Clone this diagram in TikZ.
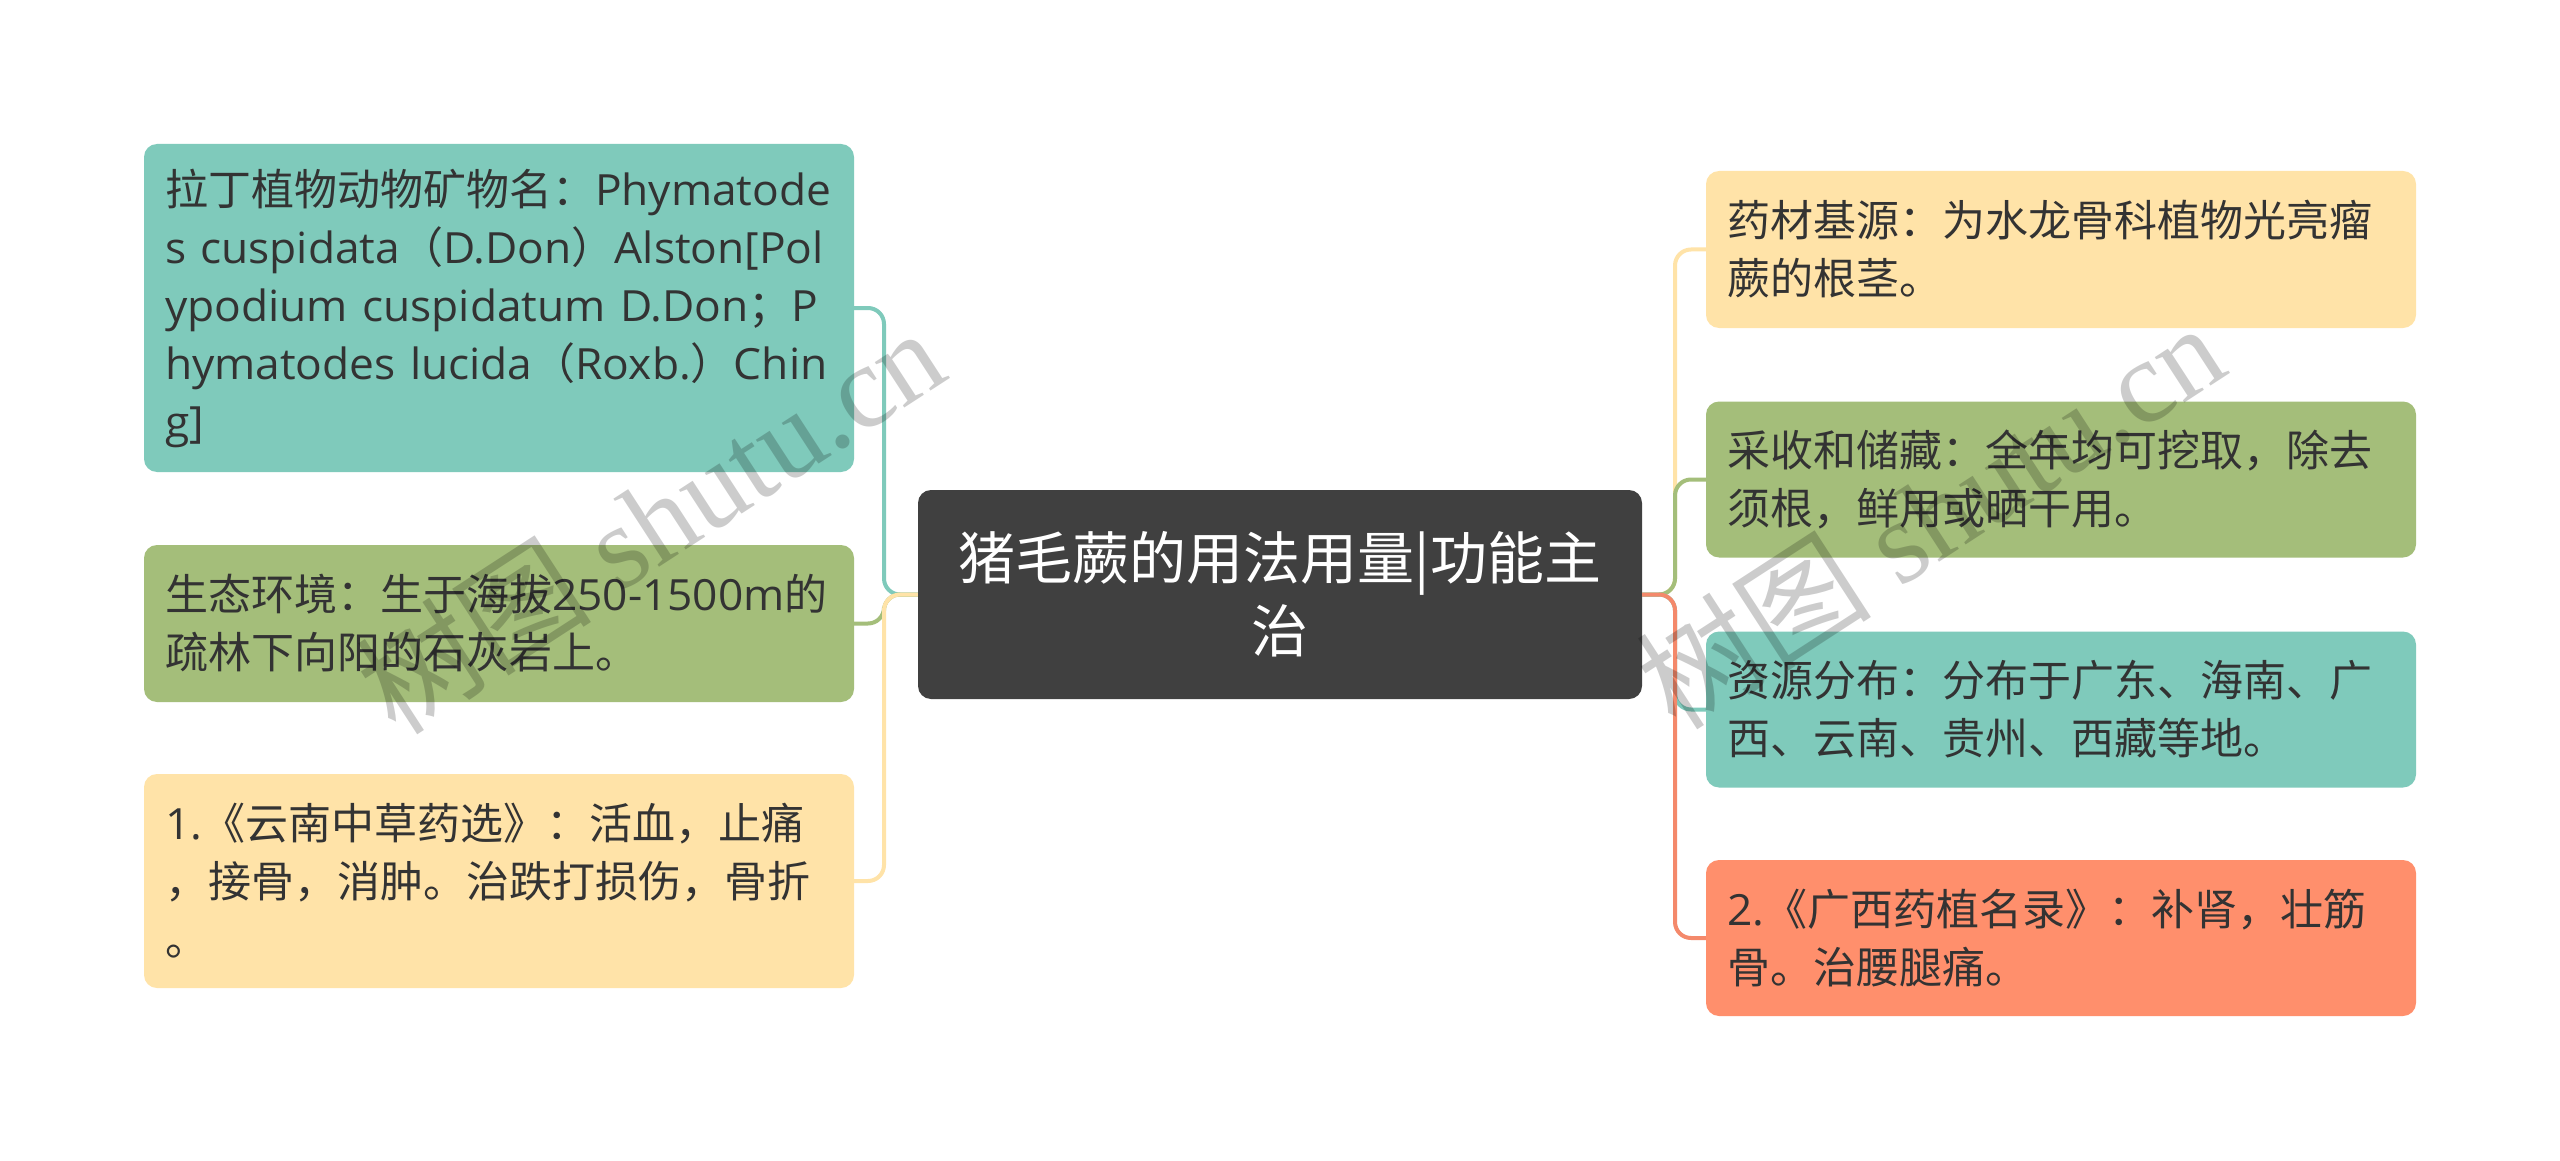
\documentclass[tikz,border=0pt]{standalone}
\usepackage{fontspec}
\setmainfont{Noto Sans CJK SC}
\newfontfamily\lat[FakeStretch=1.03]{Open Sans}
\newfontfamily\wmlat{Liberation Serif}
\newfontfamily\wmcjk{Noto Sans CJK SC}
\definecolor{cteal}{HTML}{7FCABB}
\definecolor{cgreen}{HTML}{A4BE7A}
\definecolor{cyellow}{HTML}{FFE3A8}
\definecolor{csalmon}{HTML}{FF8F6C}
\definecolor{lsalmon}{HTML}{F4896B}
\definecolor{ccenter}{HTML}{404040}
\definecolor{ctxt}{HTML}{333333}
\begin{document}
\begin{tikzpicture}[x=1pt,y=-1pt,
  box/.style={rounded corners=13pt, inner xsep=21pt, inner ysep=0pt,
    text width=668pt, align=left, minimum width=710pt,
    font=\fontsize{43pt}{58pt}\selectfont, text=ctxt},
  centerbox/.style={rounded corners=13pt, fill=ccenter, inner xsep=20pt, inner ysep=0pt,
    text width=684pt, align=center, minimum width=724pt, minimum height=209pt,
    font=\fontsize{57pt}{73pt}\selectfont, text=white},
  lk/.style={line width=4pt, rounded corners=16pt},
  wm/.style={text=black, text opacity=0.2, rotate=33, font=\wmlat\fontsize{118pt}{118pt}\selectfont, inner sep=0pt}]
\fill[white] (0,0) rectangle (2560,1161);
\useasboundingbox (0,0) rectangle (2560,1161);

\node[centerbox] (c) at (1280,594.5) {猪毛蕨的用法用量|功能主\\治};

\node[box, fill=cteal, minimum height=328pt] (l1) at (499,308)
  {拉丁植物动物矿物名：{\lat Phymatode}\\{\lat s cuspidata}（{\lat D.Don}）{\lat Alston[Pol}\\{\lat ypodium cuspidatum D.Don}；{\lat P}\\{\lat hymatodes lucida}（{\lat Roxb.}）{\lat Chin}\\{\lat g]}};
\node[box, fill=cgreen, minimum height=157pt] (l2) at (499,623.5)
  {生态环境：生于海拔{\lat 250-1500m}的\\疏林下向阳的石灰岩上。};
\node[box, fill=cyellow, minimum height=214pt] (l3) at (499,881)
  {{\lat 1.}《云南中草药选》：活血，止痛\\，接骨，消肿。治跌打损伤，骨折\\。};

\node[box, fill=cyellow, minimum height=157pt] (r1) at (2061,249.5)
  {药材基源：为水龙骨科植物光亮瘤\\蕨的根茎。};
\node[box, fill=cgreen, minimum height=156pt] (r2) at (2061,479.5)
  {采收和储藏：全年均可挖取，除去\\须根，鲜用或晒干用。};
\node[box, fill=cteal, minimum height=156pt] (r3) at (2061,709.5)
  {资源分布：分布于广东、海南、广\\西、云南、贵州、西藏等地。};
\node[box, fill=csalmon, minimum height=156pt] (r4) at (2061,938)
  {{\lat 2.}《广西药植名录》：补肾，壮筋\\骨。治腰腿痛。};

\coordinate (sL) at (884,594.5);
\coordinate (sR) at (1675,594.5);

\draw[lk, draw=cteal] (c.west) -- (sL) -- (sL |- l1.east) -- (l1.east);
\draw[lk, draw=cgreen] (c.west) -- (sL) -- (sL |- l2.east) -- (l2.east);
\draw[lk, draw=cyellow] (c.west) -- (sL) -- (sL |- l3.east) -- (l3.east);

\draw[lk, draw=cyellow] (c.east) -- (sR) -- (sR |- r1.west) -- (r1.west);
\draw[lk, draw=cgreen] (c.east) -- (sR) -- (sR |- r2.west) -- (r2.west);
\draw[lk, draw=cteal] (c.east) -- (sR) -- (sR |- r3.west) -- (r3.west);
\draw[lk, draw=lsalmon] (c.east) -- (sR) -- (sR |- r4.west) -- (r4.west);

\node[wm] (w1) at (650,520) {{\wmcjk 树图} shutu.cn};
\node[wm] (w2) at (1930,515) {{\wmcjk 树图} shutu.cn};
\end{tikzpicture}
\end{document}
